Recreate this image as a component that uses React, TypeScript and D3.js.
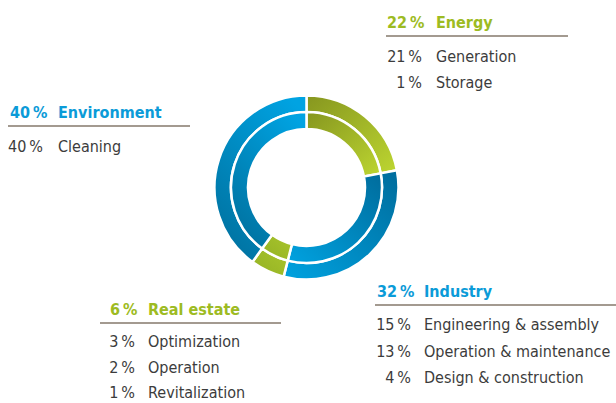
import React from 'react';
import * as d3 from 'd3';

const categories = ['Energy', 'Industry', 'Real estate', 'Environment'];
const categoryShares = [22, 32, 6, 40];
const categoryKinds = ['green', 'blue', 'green', 'blue'];

const energyItems = ['Generation', 'Storage'];
const energyShares = [21, 1];
const industryItems = ['Engineering & assembly', 'Operation & maintenance', 'Design & construction'];
const industryShares = [15, 13, 4];
const realEstateItems = ['Optimization', 'Operation', 'Revitalization'];
const realEstateShares = [3, 2, 1];
const environmentItems = ['Cleaning'];
const environmentShares = [40];

const W = 616;
const H = 403;
const cx = 306.5;
const cy = 187.5;
const FONT = '"DejaVu Sans Condensed", "Roboto", sans-serif';
const GREEN = '#9dbb22';
const BLUE = '#0b9bd8';
const TEXT = '#3c3c3c';
const RULE = '#a39a90';
const SP = '\u2009';

// gradient per slice: [start colour, end colour, x1, y1, x2, y2]
const sliceGradients = [
  ['#86961f', '#bdd631', 0, 0, 1, 1],
  ['#006c9c', '#00a2e0', 1, 0, 0, 1],
  ['#a9c52c', '#93b124', 1, 0, 0, 1],
  ['#00a3e2', '#00719f', 0.8, 0, 0.2, 1],
];

// legend blocks: header x, baseline, rule extent, percent right edge, label x, first row offset, row step
const blocks = [
  { cat: 0, items: energyItems, shares: energyShares, px: 387, lx: 436, y: 28, r0: 386, r1: 568, pr: 422, off: 34, step: 26 },
  { cat: 3, items: environmentItems, shares: environmentShares, px: 10, lx: 58, y: 118, r0: 8, r1: 190, pr: 0, off: 34, step: 26 },
  { cat: 1, items: industryItems, shares: industryShares, px: 377, lx: 424, y: 297, r0: 375, r1: 616, pr: 411, off: 33, step: 26.5 },
  { cat: 2, items: realEstateItems, shares: realEstateShares, px: 110, lx: 148, y: 315, r0: 100, r1: 281, pr: 135, off: 32, step: 25.5 },
];

export default function App() {
  const pie = d3.pie<number>().sort(null).value(d => d);
  const slices = pie(categoryShares);
  const outerArc = d3.arc<d3.PieArcDatum<number>>().innerRadius(75.5).outerRadius(92);
  const innerArc = d3.arc<d3.PieArcDatum<number>>().innerRadius(58.5).outerRadius(75.5);

  return (
    <svg width={W} height={H} style={{ position: 'absolute', left: 0, top: 0 }} fontFamily={FONT}>
      <defs>
        {sliceGradients.map((g, i) => (
          <linearGradient key={i} id={`g${i}`} x1={g[2] as number} y1={g[3] as number} x2={g[4] as number} y2={g[5] as number}>
            <stop offset="0" stopColor={g[0] as string} />
            <stop offset="1" stopColor={g[1] as string} />
          </linearGradient>
        ))}
      </defs>
      <g transform={`translate(${cx},${cy})`}>
        {slices.map((s, i) => (
          <g key={i}>
            <path d={outerArc(s) || ''} fill={`url(#g${i})`} stroke="#fff" strokeWidth={2.5} />
            <path d={innerArc(s) || ''} fill={`url(#g${i})`} stroke="#fff" strokeWidth={2.5} />
          </g>
        ))}
      </g>
      {blocks.map((b, i) => {
        const color = categoryKinds[b.cat] === 'green' ? GREEN : BLUE;
        return (
          <g key={i}>
            <text x={b.px} y={b.y} fill={color} fontWeight="bold" fontSize={16}>
              {categoryShares[b.cat]}{SP}%
            </text>
            <text x={b.lx} y={b.y} fill={color} fontWeight="bold" fontSize={16}>
              {categories[b.cat]}
            </text>
            <line x1={b.r0} x2={b.r1} y1={b.y + 8} y2={b.y + 8} stroke={RULE} strokeWidth={2} />
            {b.items.map((it, j) => (
              <g key={j}>
                <text
                  x={b.pr ? b.pr : b.px - 2}
                  y={b.y + b.off + j * b.step}
                  textAnchor={b.pr ? 'end' : 'start'}
                  fill={TEXT}
                  fontSize={16}
                >
                  {b.shares[j]}{SP}%
                </text>
                <text x={b.lx} y={b.y + b.off + j * b.step} fill={TEXT} fontSize={16}>
                  {it}
                </text>
              </g>
            ))}
          </g>
        );
      })}
    </svg>
  );
}
